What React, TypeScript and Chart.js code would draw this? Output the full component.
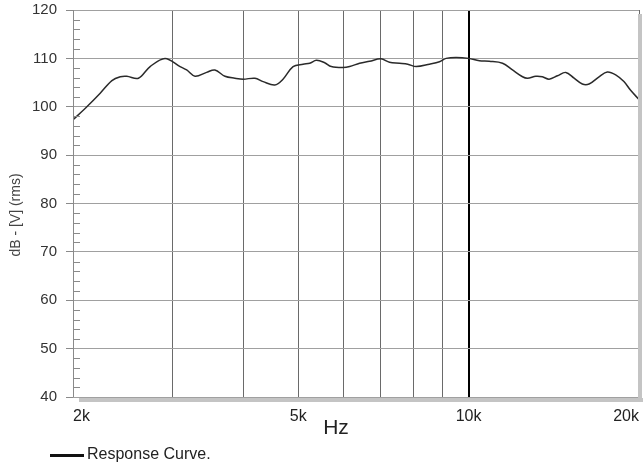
import React, { useEffect, useRef } from "react";
import { Chart, registerables } from "chart.js";
Chart.register(...registerables);

const freqs = [2000, 2116, 2234, 2343, 2424, 2490, 2610, 2737, 2908, 3092, 3176, 3286, 3444, 3562, 3711, 3864, 4000, 4192, 4335, 4546, 4700, 4896, 5100, 5240, 5384, 5568, 5720, 6000, 6164, 6418, 6684, 7000, 7248, 7550, 7808, 8080, 8528, 8882, 9126, 9504, 10000, 10446, 10876, 11480, 11954, 12452, 12706, 13144, 13500, 13874, 14350, 14848, 15360, 15880, 16322, 17000, 17580, 18190, 18810, 19330, 20000];
const levels = [97.3, 100.0, 102.8, 105.4, 106.2, 106.3, 105.9, 108.3, 110.0, 108.3, 107.6, 106.3, 107.1, 107.6, 106.3, 105.9, 105.7, 105.9, 105.2, 104.5, 105.7, 108.3, 108.8, 109.0, 109.6, 109.1, 108.3, 108.1, 108.3, 109.0, 109.4, 109.9, 109.2, 109.0, 108.8, 108.3, 108.8, 109.3, 110.0, 110.2, 110.0, 109.5, 109.4, 109.0, 107.6, 106.2, 105.9, 106.3, 106.2, 105.7, 106.4, 107.1, 105.9, 104.7, 104.7, 106.2, 107.2, 106.6, 105.2, 103.4, 101.5];

const xTickValues = [2000, 3000, 4000, 5000, 6000, 7000, 8000, 9000, 10000, 20000];
const xTickLabels: Record<number, string> = { 2000: "2k", 5000: "5k", 10000: "10k", 20000: "20k" };
const xMin = 2000;
const xMax = 20000;
const yMin = 40;
const yMax = 120;
const yStep = 10;
const yMinorStep = 2;
const seriesLabel = "Response Curve.";
const xTitle = "Hz";
const yTitle = "dB - [V] (rms)";

const FONT = "'Liberation Sans', Arial, sans-serif";

export default function App() {
  const ref = useRef<HTMLCanvasElement | null>(null);
  useEffect(() => {
    const canvas = ref.current;
    if (!canvas) return;
    const deco = {
      id: "deco",
      afterDraw(chart: any) {
        const ctx = chart.ctx;
        const ca = chart.chartArea;
        const ys = chart.scales.y;
        ctx.save();
        // minor ticks inside
        ctx.strokeStyle = "#8a8a8a";
        ctx.lineWidth = 1;
        for (let v = yMin + yMinorStep; v < yMax; v += yMinorStep) {
          if (v % yStep === 0) continue;
          const y = Math.round(ys.getPixelForValue(v)) + 0.5;
          ctx.beginPath();
          ctx.moveTo(ca.left, y);
          ctx.lineTo(ca.left + 7, y);
          ctx.stroke();
        }
        // shadow bars
        ctx.fillStyle = "#c4c4c4";
        ctx.fillRect(ca.left + 6, ca.bottom + 1, ca.right - ca.left - 2, 4);
        ctx.fillRect(ca.right - 1, ca.top + 4, 4, ca.bottom - ca.top + 1);
        // y axis line
        ctx.strokeStyle = "#8a8a8a";
        ctx.beginPath();
        ctx.moveTo(ca.left + 0.5, ca.top);
        ctx.lineTo(ca.left + 0.5, ca.bottom);
        ctx.stroke();
        // x title
        ctx.fillStyle = "#222";
        ctx.font = `21px ${FONT}`;
        ctx.textAlign = "center";
        ctx.textBaseline = "middle";
        ctx.fillText(xTitle, 336, 428);
        // y title
        ctx.save();
        ctx.translate(16, 215);
        ctx.rotate(-Math.PI / 2);
        ctx.font = `14px ${FONT}`;
        ctx.fillStyle = "#444";
        ctx.fillText(yTitle, 0, 0);
        ctx.restore();
        // legend
        ctx.strokeStyle = "#111";
        ctx.lineWidth = 3;
        ctx.beginPath();
        ctx.moveTo(50, 455.5);
        ctx.lineTo(84, 455.5);
        ctx.stroke();
        ctx.fillStyle = "#222";
        ctx.font = `16px ${FONT}`;
        ctx.textAlign = "left";
        ctx.fillText(seriesLabel, 87, 455);
        ctx.restore();
      },
    };
    const chart = new Chart(canvas, {
      type: "line",
      data: {
        datasets: [
          {
            label: seriesLabel,
            data: freqs.map((f, i) => ({ x: f, y: levels[i] })),
            borderColor: "#2a2a2a",
            borderWidth: 1.5,
            pointRadius: 0,
            tension: 0.35,
            fill: false,
          },
        ],
      },
      options: {
        animation: false,
        responsive: false,
        maintainAspectRatio: false,
        layout: { padding: { left: 0, top: 10, right: 5, bottom: 0 } },
        plugins: { legend: { display: false }, tooltip: { enabled: false } },
        scales: {
          x: {
            type: "logarithmic",
            min: xMin,
            max: xMax,
            afterFit: (s: any) => {
              s.height = 73;
              s.paddingLeft = 0;
              s.paddingRight = 0;
            },
            afterBuildTicks: (s: any) => {
              s.ticks = xTickValues.map((v) => ({ value: v }));
            },
            border: { display: false },
            grid: {
              drawTicks: false,
              color: (c: any) => (c.tick && c.tick.value === 10000 ? "#000" : "#6a6a6a"),
              lineWidth: (c: any) => (c.tick && c.tick.value === 10000 ? 2 : 1),
            },
            ticks: {
              autoSkip: false,
              maxRotation: 0,
              align: "inner",
              padding: 10,
              color: "#222",
              font: { family: FONT, size: 16 },
              callback: (v: any) => xTickLabels[Number(v)] ?? "",
            },
          },
          y: {
            min: yMin,
            max: yMax,
            afterFit: (s: any) => {
              s.width = 73;
              s.paddingTop = 0;
              s.paddingBottom = 0;
            },
            border: { display: false },
            grid: {
              color: "#a0a0a0",
              lineWidth: 1,
              drawTicks: true,
              tickLength: 7,
              tickColor: "#8a8a8a",
            },
            ticks: {
              stepSize: yStep,
              padding: 9,
              color: "#333",
              font: { family: FONT, size: 15 },
            },
          },
        },
      },
      plugins: [deco],
    } as any);
    return () => chart.destroy();
  }, []);
  return (
    <div style={{ position: "absolute", left: 0, top: 0, width: 644, height: 470, background: "#fff" }}>
      <canvas ref={ref} width={644} height={470} style={{ display: "block", width: 644, height: 470 }} />
    </div>
  );
}
